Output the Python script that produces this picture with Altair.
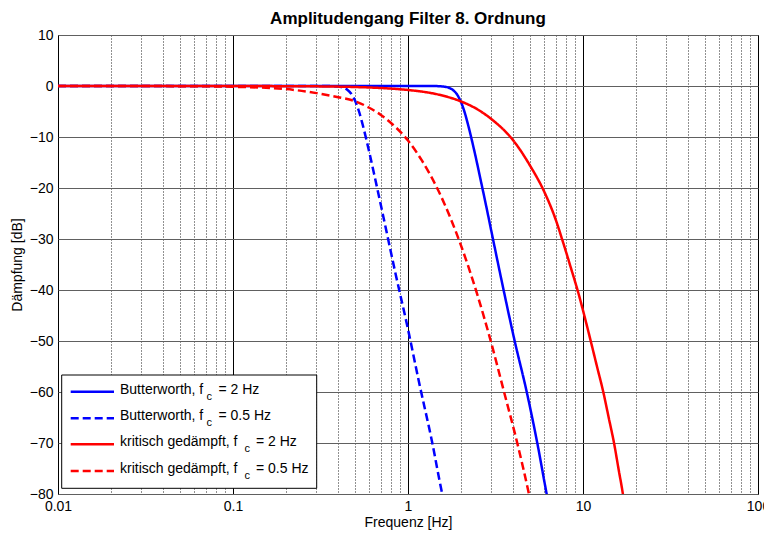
import altair as alt
import pandas as pd

FONT = "Liberation Sans"

# ---- data ----
names = [
    "Butterworth, fc = 2 Hz",
    "Butterworth, fc = 0.5 Hz",
    "kritisch gedämpft, fc = 2 Hz",
    "kritisch gedämpft, fc = 0.5 Hz",
]

bw2_f = [0.01, 0.1, 1.0, 1.4, 1.6, 1.7, 1.8, 1.9, 2.0, 2.1, 2.2, 2.4, 2.6, 2.8, 3.0, 3.4, 4.07, 4.77, 5.48, 6.2, 6.4]
bw2_db = [0, 0, 0, -0.01, -0.12, -0.31, -0.74, -1.58, -3.0, -5.0, -7.5, -12.9, -18.4, -23.6, -28.6, -37.6, -50, -60, -70, -80, -82.5]

bw05_f = [0.01, 0.1, 0.35, 0.4, 0.425, 0.45, 0.475, 0.5, 0.525, 0.55, 0.6, 0.65, 0.7, 0.75, 0.85, 0.99, 1.155, 1.377, 1.57, 1.62]
bw05_db = [0, 0, -0.01, -0.12, -0.31, -0.74, -1.58, -3.0, -5.0, -7.5, -12.9, -18.3, -23.4, -28.2, -36.9, -47.0, -58.0, -70, -80, -82]

kd2_f = [0.01, 0.1, 0.3, 0.5, 0.75, 1.0, 1.5, 2.0, 2.5, 3.0, 4.0, 5.0, 6.0, 7.0, 7.62, 8.5, 9.48, 10.0, 11.07, 12.0, 13.06, 14.0, 15.04, 16.0, 16.9, 17.3]
kd2_db = [0, -0.01, -0.07, -0.2, -0.45, -0.78, -1.7, -3.0, -4.6, -6.5, -10.7, -15.7, -20.7, -26.3, -30.2, -35.5, -41.0, -44.0, -50, -54.9, -60, -64.9, -70, -75.3, -80, -82.5]

kd05_f = [0.01, 0.05, 0.1, 0.2, 0.3, 0.4, 0.5, 0.6, 0.7, 0.8, 1.0, 1.2, 1.5, 2.0, 2.5, 2.97, 3.54, 4.21, 4.91, 5.05]
kd05_db = [0, -0.03, -0.15, -0.6, -1.4, -2.2, -3.0, -4.26, -5.67, -7.25, -10.7, -14.6, -20.7, -31.1, -41.1, -50, -60, -70, -80, -82]

x_ticks = [m * 10.0 ** e for e in range(-2, 2) for m in range(1, 10)] + [100.0]
y_ticks = [-80, -70, -60, -50, -40, -30, -20, -10, 0, 10]

colors = ["#0000ff", "#0000ff", "#ff0000", "#ff0000"]
dashes = [[1, 0], [8, 4], [1, 0], [8, 4]]

rows = []
for name, fs, dbs in zip(names, [bw2_f, bw05_f, kd2_f, kd05_f], [bw2_db, bw05_db, kd2_db, kd05_db]):
    for f, d in zip(fs, dbs):
        rows.append({"series": name, "f": f, "db": d})
df = pd.DataFrame(rows)

decade = "abs(log(datum.value)/LN10 - round(log(datum.value)/LN10)) < 0.001"

x_axis = alt.Axis(
    values=x_ticks,
    labelExpr=f"({decade}) ? toString(datum.value) : ''",
    labelOverlap=False,
    labelFlush=False,
    grid=True,
    gridColor={"condition": {"test": decade, "value": "#000000"}, "value": "#222222"},
    gridDash={"condition": {"test": decade, "value": []}, "value": [1, 2]},
    gridWidth=1,
    ticks=False,
    domain=False,
    labelPadding=5,
    title="Frequenz [Hz]",
    titlePadding=2,
)
y_axis = alt.Axis(
    values=y_ticks,
    grid=True,
    gridColor="#606060",
    gridWidth=1.2,
    ticks=False,
    domain=False,
    labelPadding=5,
    title="Dämpfung [dB]",
    titlePadding=5,
)

lines = alt.Chart(df).mark_line(strokeWidth=2.5, clip=True, interpolate="monotone").encode(
    x=alt.X("f:Q", scale=alt.Scale(type="log", domain=[0.01, 100], nice=False), axis=x_axis),
    y=alt.Y("db:Q", scale=alt.Scale(domain=[-80, 10], nice=False), axis=y_axis),
    color=alt.Color("series:N", scale=alt.Scale(domain=names, range=colors), legend=None),
    strokeDash=alt.StrokeDash("series:N", scale=alt.Scale(domain=names, range=dashes), legend=None),
)

one = alt.Data(values=[{"a": 1}])

layers = [lines]
layers.append(
    alt.Chart(one).mark_rect(fill="white", stroke="black", strokeWidth=1).encode(
        x=alt.value(3.7), x2=alt.value(258.7), y=alt.value(340), y2=alt.value(453.3)
    )
)

row_y = [356.7, 383.3, 409.3, 436.0]
leg_parts = [
    ("Butterworth, f", "= 2 Hz", 148.5, 160.5),
    ("Butterworth, f", "= 0.5 Hz", 148.5, 160.5),
    ("kritisch gedämpft, f", "= 2 Hz", 186.5, 198.0),
    ("kritisch gedämpft, f", "= 0.5 Hz", 186.5, 198.0),
]


def txt(text, x, y, size=14):
    return alt.Chart(one).mark_text(
        align="left", baseline="middle", fontSize=size, font=FONT, color="black"
    ).encode(x=alt.value(x), y=alt.value(y), text=alt.value(text))


for i, (a, b, xc, xb) in enumerate(leg_parts):
    yy = row_y[i]
    rule_kwargs = dict(color=colors[i], strokeWidth=2.5)
    if dashes[i] != [1, 0]:
        rule_kwargs["strokeDash"] = dashes[i]
    layers.append(
        alt.Chart(one).mark_rule(**rule_kwargs).encode(
            x=alt.value(12.7), x2=alt.value(56), y=alt.value(yy)
        )
    )
    layers.append(txt(a, 62, yy - 2))
    layers.append(txt("c", xc, yy + 5, 11))
    layers.append(txt(b, xb, yy - 2))

chart = alt.layer(*layers).properties(
    width=700,
    height=459,
    autosize=alt.AutoSizeParams(type="none"),
    padding={"left": 50, "top": 27, "right": 6, "bottom": 40},
    title=alt.Title(
        "Amplitudengang Filter 8. Ordnung",
        fontSize=17,
        fontWeight="bold",
        font=FONT,
        anchor="middle",
        frame="group",
        offset=0,
        dy=0,
        color="black",
    ),
).configure_view(stroke="black", strokeWidth=1).configure_axis(
    labelFont=FONT,
    titleFont=FONT,
    labelFontSize=14,
    titleFontSize=14,
    titleFontWeight="normal",
    labelColor="black",
    titleColor="black",
)

chart.save("out.html", embed_options={"renderer": "svg", "actions": False})
